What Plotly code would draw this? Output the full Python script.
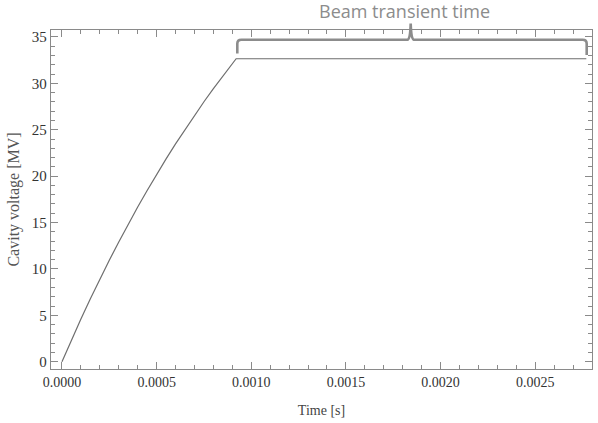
import plotly.graph_objects as go

# Data (time in s, voltage in MV)
time_s = [0.0, 0.00005, 0.0001, 0.00015, 0.0002, 0.00025, 0.0003, 0.00035,
          0.0004, 0.00045, 0.0005, 0.00055, 0.0006, 0.00065, 0.0007, 0.00075,
          0.0008, 0.00085, 0.0009, 0.00092, 0.00277]
voltage_mv = [0.0, 2.33, 4.59, 6.78, 8.89, 10.93, 12.91, 14.82,
              16.67, 18.45, 20.18, 21.86, 23.47, 25.03, 26.55, 28.02,
              29.43, 30.80, 32.12, 32.65, 32.65]

x_tick_vals = [0.0, 0.0005, 0.0010, 0.0015, 0.0020, 0.0025]
x_tick_text = ["0.0000", "0.0005", "0.0010", "0.0015", "0.0020", "0.0025"]
y_tick_vals = [0, 5, 10, 15, 20, 25, 30, 35]

annotation_text = "Beam transient time"

W, H = 598, 423
ML, MR, MT, MB = 51, 6, 30, 54
PW, PH = W - ML - MR, H - MT - MB


def px(x):
    return (x - ML) / PW


def py(y):
    return (H - MB - y) / PH


fig = go.Figure()
fig.add_trace(go.Scatter(x=time_s, y=voltage_mv, mode="lines",
                         line=dict(color="#6e6e6e", width=1.2),
                         showlegend=False, hoverinfo="skip"))

axis_common = dict(
    showgrid=False, zeroline=False, showline=True, linecolor="#8a8a8a",
    linewidth=1.3, mirror="allticks", ticks="inside", ticklen=7,
    tickcolor="#8a8a8a", tickwidth=1,
)

fig.update_layout(
    width=W, height=H,
    margin=dict(l=ML, r=MR, t=MT, b=MB),
    paper_bgcolor="white", plot_bgcolor="white",
    xaxis=dict(
        range=[-0.000058, 0.0028], tickvals=x_tick_vals, ticktext=x_tick_text,
        tickfont=dict(family="Liberation Serif", size=14, color="#333333"),
        minor=dict(dtick=0.0001, tick0=0, ticks="inside", ticklen=4,
                   tickcolor="#8a8a8a", tickwidth=1),
        title=dict(text="Time [s]", font=dict(family="Liberation Serif", size=14,
                                              color="#444444"), standoff=16),
        **axis_common,
    ),
    yaxis=dict(
        range=[-0.79, 35.75], tickvals=y_tick_vals,
        tickfont=dict(family="Liberation Serif", size=15, color="#333333"),
        minor=dict(dtick=1, tick0=0, ticks="inside", ticklen=4,
                   tickcolor="#8a8a8a", tickwidth=1),
        title=dict(text="Cavity voltage [MV]",
                   font=dict(family="Liberation Serif", size=16, color="#555555"),
                   standoff=8),
        **axis_common,
    ),
)

# Curly brace above the flat section
xl, xr, xm = 237.3, 586.7, 410.7
yh, yb, yp = 39.7, 53.5, 23.5
r = 4
path = (
    f"M {px(xl)},{py(yb)} L {px(xl)},{py(yh + r)} "
    f"Q {px(xl)},{py(yh)} {px(xl + r)},{py(yh)} "
    f"L {px(xm - 3)},{py(yh)} Q {px(xm - 0.5)},{py(yh)} {px(xm)},{py(yp)} "
    f"Q {px(xm + 0.5)},{py(yh)} {px(xm + 3)},{py(yh)} "
    f"L {px(xr - r)},{py(yh)} Q {px(xr)},{py(yh)} {px(xr)},{py(yh + r)} "
    f"L {px(xr)},{py(yb + 1.5)}"
)
fig.add_shape(type="path", path=path, xref="paper", yref="paper",
              line=dict(color="#8c8c8c", width=2.6))

fig.add_annotation(text=annotation_text, xref="paper", yref="paper",
                   x=px(404), y=py(11), xanchor="center", yanchor="middle",
                   showarrow=False,
                   font=dict(family="Open Sans", size=18, color="#8c8c8c"))

fig.write_html("out.html")
